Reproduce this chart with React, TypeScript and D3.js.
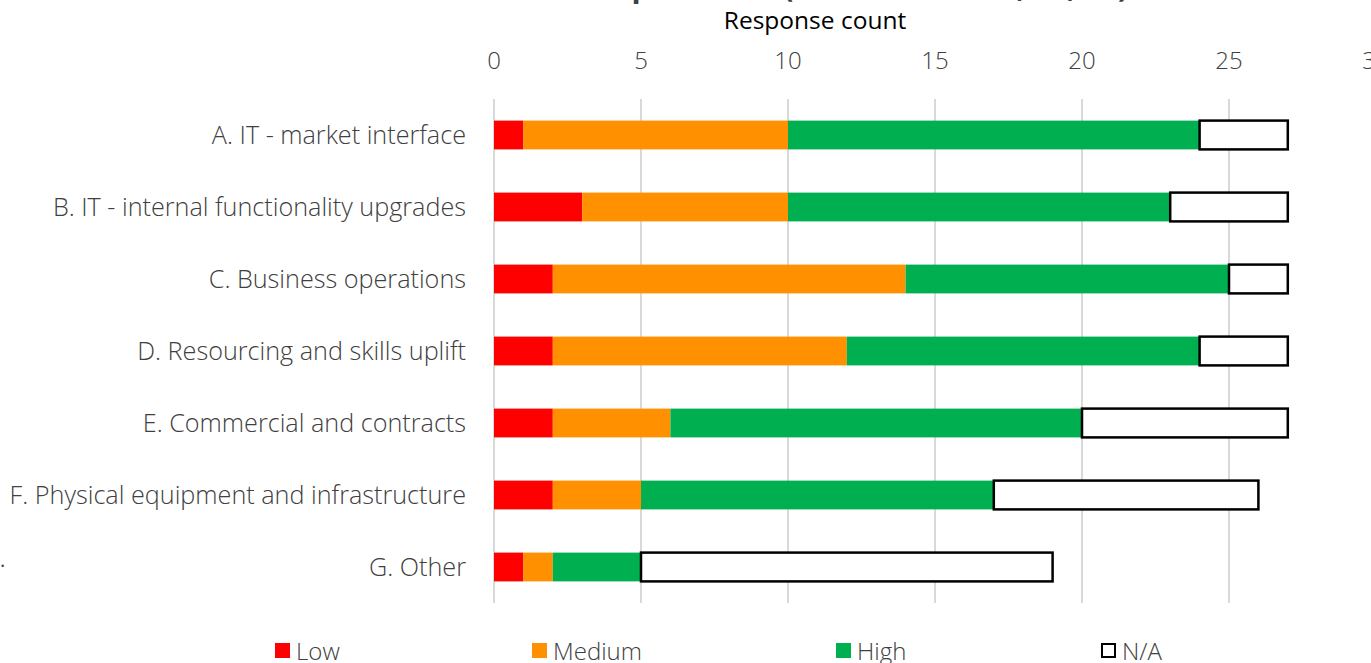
import React from "react";
import * as d3 from "d3";

const categories = [
  "A. IT - market interface",
  "B. IT - internal functionality upgrades",
  "C. Business operations",
  "D. Resourcing and skills uplift",
  "E. Commercial and contracts",
  "F. Physical equipment and infrastructure",
  "G. Other",
];
const lowValues = [1, 3, 2, 2, 2, 2, 1];
const mediumValues = [9, 7, 12, 10, 4, 3, 1];
const highValues = [14, 13, 11, 12, 14, 12, 3];
const naValues = [3, 4, 2, 3, 7, 9, 14];
const seriesNames = ["Low", "Medium", "High", "N/A"];
const seriesColors = ["#FF0000", "#FF9100", "#00B050", "#FFFFFF"];
const tickValues = [0, 5, 10, 15, 20, 25, 30];
const titleText = "Impact level (scores for 2020, 21, 22)";
const axisTitle = "Response count";

const W = 1371;
const H = 663;
const FONT = "'Open Sans', 'Noto Sans', sans-serif";

export default function App() {
  const x = d3.scaleLinear().domain([0, 30]).range([494, 1376]);
  const y = d3.scaleBand().domain(categories).range([99, 603]).paddingInner(0.6).paddingOuter(0.3);

  const rows = categories.map((c, i) => ({
    cat: c,
    Low: lowValues[i],
    Medium: mediumValues[i],
    High: highValues[i],
    "N/A": naValues[i],
  }));
  const stacked = d3.stack<any>().keys(seriesNames)(rows);

  const legendX = [275, 532, 836, 1101];

  return (
    <div style={{ position: "fixed", left: 0, top: 0, width: W, height: H, overflow: "hidden" }}>
      <svg width={W} height={H} style={{ display: "block", background: "#fff" }}>
        <text x={592} y={-3} fontFamily={FONT} fontSize={30} fontWeight={700} fill="#404040">
          {titleText}
        </text>
        <text x={0} y={567} fontFamily={FONT} fontSize={20} fill="#404040">.</text>
        <text x={815} y={29} textAnchor="middle" fontFamily={FONT} fontSize={24.5} fill="#000">
          {axisTitle}
        </text>
        {tickValues.map((t) => (
          <g key={t}>
            {t < 30 && (
              <line x1={x(t)} x2={x(t)} y1={99} y2={603} stroke="#D9D9D9" strokeWidth={2} />
            )}
            <text x={x(t)} y={69} textAnchor="middle" fontFamily={FONT} fontSize={24} fontWeight={300} fill="#404040">
              {t}
            </text>
          </g>
        ))}
        {stacked.map((s, si) =>
          s.map((d, i) => {
            const isNA = seriesNames[si] === "N/A";
            return (
              <rect
                key={si + "-" + i}
                x={x(d[0])}
                y={y(categories[i])!}
                width={x(d[1]) - x(d[0])}
                height={y.bandwidth()}
                fill={seriesColors[si]}
                stroke={isNA ? "#000" : "none"}
                strokeWidth={isNA ? 2.5 : 0}
              />
            );
          })
        )}
        {categories.map((c) => (
          <text
            key={c}
            x={466}
            y={y(c)! + y.bandwidth() / 2}
            dy="0.35em"
            textAnchor="end"
            fontFamily={FONT}
            fontSize={25.2}
            fontWeight={300}
            fill="#404040"
          >
            {c}
          </text>
        ))}
        {seriesNames.map((n, i) => (
          <g key={n}>
            <rect
              x={legendX[i] + (i === 3 ? 1 : 0)}
              y={643 + (i === 3 ? 1 : 0)}
              width={i === 3 ? 13 : 15}
              height={i === 3 ? 13 : 15}
              fill={seriesColors[i]}
              stroke={i === 3 ? "#000" : "none"}
              strokeWidth={i === 3 ? 2 : 0}
            />
            <text x={legendX[i] + 21} y={660} fontFamily={FONT} fontSize={24} fontWeight={300} fill="#404040">
              {n}
            </text>
          </g>
        ))}
      </svg>
    </div>
  );
}
